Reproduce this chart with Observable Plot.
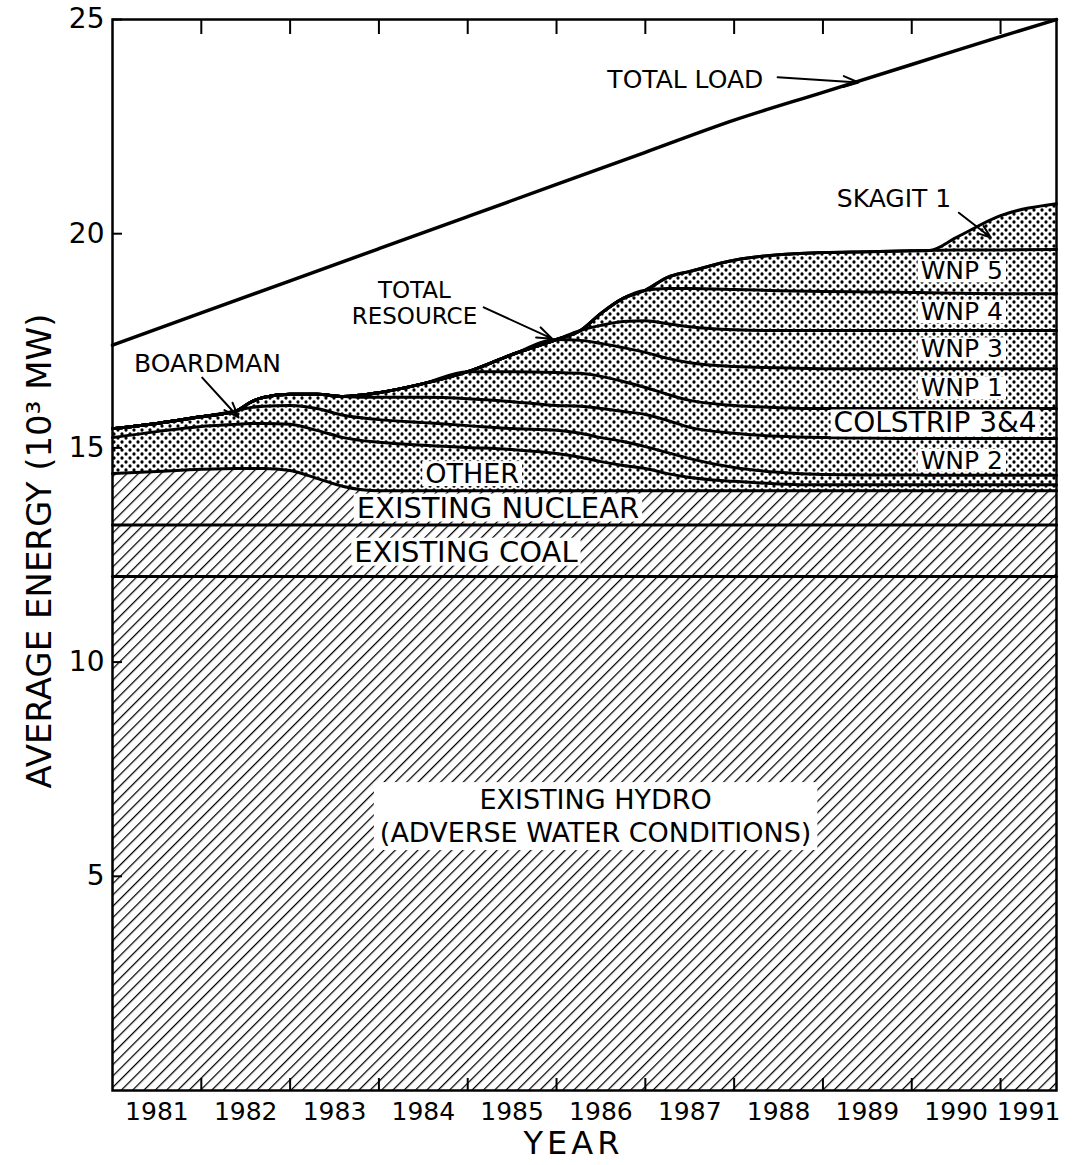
<!DOCTYPE html>
<html><head><meta charset="utf-8">
<script src="https://cdn.jsdelivr.net/npm/d3@7"></script>
<script src="https://cdn.jsdelivr.net/npm/@observablehq/plot@0.6"></script>
<style>
body{margin:0;background:#fff;}
#chart svg{display:block;}
</style></head><body><div id="chart"></div>
<script>
// ---- data (10^3 MW, cumulative tops of each resource band) ----
const years = [1981.0, 1981.5, 1982.0, 1982.4, 1982.55, 1982.7, 1983.0, 1983.3, 1983.6, 1984.0, 1984.5, 1985.0, 1985.5, 1986.0, 1986.27, 1986.5, 1986.75, 1987.0, 1987.25, 1987.5, 1988.0, 1988.5, 1989.0, 1989.5, 1990.0, 1990.2, 1990.5, 1991.0, 1991.63];
const hydroLevel = 12.0;
const coalLevel = 13.2;
const nuclearTop  = [14.40,14.45,14.50,14.52,14.52,14.52,14.47,14.29,14.10,14.00,14.00,14.00,14.00,14.00,14.00,14.00,14.00,14.00,14.00,14.00,14.00,14.00,14.00,14.00,14.00,14.00,14.00,14.00,14.00];
const otherTop    = [15.24,15.38,15.50,15.55,15.57,15.57,15.55,15.41,15.24,15.13,15.06,15.01,14.96,14.87,14.78,14.68,14.59,14.52,14.40,14.31,14.22,14.16,14.14,14.14,14.14,14.14,14.14,14.14,14.14];
const boardmanTop = [15.45,15.57,15.73,15.87,15.94,15.97,15.99,15.92,15.76,15.66,15.59,15.52,15.45,15.41,15.34,15.24,15.15,15.03,14.89,14.75,14.54,14.43,14.38,14.37,14.37,14.36,14.36,14.36,14.36];
const wnp2Top     = [15.45,15.57,15.73,15.87,16.06,16.18,16.25,16.25,16.20,16.18,16.18,16.15,16.08,15.99,15.97,15.92,15.85,15.78,15.64,15.48,15.34,15.27,15.24,15.23,15.22,15.22,15.22,15.22,15.22];
const colstripTop = [15.45,15.57,15.73,15.87,16.06,16.18,16.25,16.25,16.20,16.29,16.50,16.78,16.78,16.76,16.74,16.67,16.55,16.41,16.25,16.11,15.99,15.94,15.92,15.92,15.92,15.92,15.92,15.92,15.92];
const wnp1Top     = [15.45,15.57,15.73,15.87,16.06,16.18,16.25,16.25,16.20,16.29,16.50,16.78,17.18,17.53,17.51,17.44,17.34,17.23,17.09,16.99,16.90,16.87,16.85,16.85,16.85,16.85,16.85,16.85,16.85];
const wnp3Top     = [15.45,15.57,15.73,15.87,16.06,16.18,16.25,16.25,16.20,16.29,16.50,16.78,17.18,17.53,17.74,17.86,17.95,17.97,17.90,17.83,17.76,17.74,17.74,17.74,17.74,17.74,17.74,17.74,17.74];
const wnp4Top     = [15.45,15.57,15.73,15.87,16.06,16.18,16.25,16.25,16.20,16.29,16.50,16.78,17.18,17.53,17.74,18.14,18.49,18.68,18.72,18.72,18.70,18.67,18.65,18.64,18.63,18.62,18.61,18.60,18.60];
const wnp5Top     = [15.45,15.57,15.73,15.87,16.06,16.18,16.25,16.25,16.20,16.29,16.50,16.78,17.18,17.53,17.74,18.14,18.49,18.68,18.98,19.12,19.38,19.51,19.56,19.58,19.60,19.61,19.62,19.62,19.63];
const skagitTop   = [15.45,15.57,15.73,15.87,16.06,16.18,16.25,16.25,16.20,16.29,16.50,16.78,17.18,17.53,17.74,18.14,18.49,18.68,18.98,19.12,19.38,19.51,19.56,19.58,19.60,19.61,19.91,20.42,20.70];

const loadYears  = [1981, 1982, 1983, 1984, 1985, 1986, 1987, 1988, 1989, 1990, 1991, 1991.63];
const loadValues = [17.4, 18.15, 18.9, 19.65, 20.4, 21.15, 21.9, 22.65, 23.3, 23.95, 24.6, 25.0];

const yTicks = [5, 10, 15, 20, 25];
const xTicks = [1982, 1983, 1984, 1985, 1986, 1987, 1988, 1989, 1990, 1991];
const yearLabels = [1981, 1982, 1983, 1984, 1985, 1986, 1987, 1988, 1989, 1990, 1991];
const xDomain = [1981, 1991.63];

// ---- layers (bottom to top) ----
const layers = [
  {name: "Existing Hydro",   top: years.map(() => hydroLevel), pattern: "hatch"},
  {name: "Existing Coal",    top: years.map(() => coalLevel),  pattern: "hatch"},
  {name: "Existing Nuclear", top: nuclearTop,  pattern: "hatch"},
  {name: "Other",            top: otherTop,    pattern: "dots"},
  {name: "Boardman",         top: boardmanTop, pattern: "dots"},
  {name: "WNP 2",            top: wnp2Top,     pattern: "dots"},
  {name: "Colstrip 3&4",     top: colstripTop, pattern: "dots"},
  {name: "WNP 1",            top: wnp1Top,     pattern: "dots"},
  {name: "WNP 3",            top: wnp3Top,     pattern: "dots"},
  {name: "WNP 4",            top: wnp4Top,     pattern: "dots"},
  {name: "WNP 5",            top: wnp5Top,     pattern: "dots"},
  {name: "Skagit 1",         top: skagitTop,   pattern: "dots"}
];
const rows = [];
layers.forEach((L, i) => {
  const lower = i === 0 ? null : layers[i - 1].top;
  years.forEach((x, j) => rows.push({layer: L.name, pattern: L.pattern, x, y1: lower ? lower[j] : 0, y2: L.top[j]}));
});
const loadRows = loadYears.map((x, i) => ({x, y: loadValues[i]}));

// ---- annotations ----
const notes = [
  {text: "TOTAL LOAD", x: 1987.45, y: 23.6, size: 25},
  {text: "TOTAL\nRESOURCE", x: 1984.4, y: 18.38, size: 23},
  {text: "BOARDMAN", x: 1982.07, y: 16.99, size: 25},
  {text: "SKAGIT 1", x: 1989.8, y: 20.84, size: 25}
];
const arrows = [
  {x1: 1988.49, y1: 23.65, x2: 1989.40, y2: 23.53},
  {x1: 1985.18, y1: 18.28, x2: 1985.95, y2: 17.55},
  {x1: 1982.01, y1: 16.64, x2: 1982.42, y2: 15.71},
  {x1: 1990.53, y1: 20.49, x2: 1990.89, y2: 19.91}
];
const bandLabels = [
  {text: "WNP 5", x: 1990.10, y: 19.12, size: 25},
  {text: "WNP 4", x: 1990.10, y: 18.17, size: 25},
  {text: "WNP 3", x: 1990.10, y: 17.30, size: 25},
  {text: "WNP 1", x: 1990.10, y: 16.39, size: 25},
  {text: "COLSTRIP 3&4", x: 1989.12, y: 15.57, size: 28},
  {text: "WNP 2", x: 1990.10, y: 14.70, size: 25}
];
const centerLabels = [
  {text: "OTHER", x: 1985.05, y: 14.38, size: 27},
  {text: "EXISTING NUCLEAR", x: 1985.34, y: 13.59, size: 29},
  {text: "EXISTING COAL", x: 1984.98, y: 12.56, size: 29}
];
const hydroLabel = [{text: "EXISTING HYDRO\n(ADVERSE WATER CONDITIONS)", x: 1986.44, y: 6.43, size: 27}];

const font = "DejaVu Sans";
const svg = Plot.plot({
  width: 1074, height: 1165,
  marginLeft: 112, marginRight: 18, marginTop: 19, marginBottom: 75,
  style: {fontFamily: font, background: "white", color: "black"},
  x: {domain: xDomain, axis: null},
  y: {domain: [0, 25], axis: null},
  marks: [
    Plot.areaY(rows.filter(r => r.pattern === "hatch"), {x: "x", y1: "y1", y2: "y2", z: "layer", fill: "url(#hatch)", curve: "monotone-x"}),
    Plot.areaY(rows.filter(r => r.pattern === "dots"), {x: "x", y1: "y1", y2: "y2", z: "layer", fill: "url(#dots)", curve: "monotone-x"}),
    Plot.line(rows, {x: "x", y: "y2", z: "layer", stroke: "black", strokeWidth: 3, curve: "monotone-x"}),
    Plot.line(loadRows, {x: "x", y: "y", stroke: "black", strokeWidth: 3.5, curve: "monotone-x"}),
    Plot.arrow(arrows, {x1: "x1", y1: "y1", x2: "x2", y2: "y2", stroke: "black", strokeWidth: 2, headLength: 12, headAngle: 40}),
    Plot.text(notes, {x: "x", y: "y", text: "text", fontSize: d => d.size, lineHeight: 1.12, fill: "black"}),
    Plot.text(bandLabels, {x: "x", y: "y", text: "text", fontSize: d => d.size, textAnchor: "start", fill: "black"}),
    Plot.text(centerLabels, {x: "x", y: "y", text: "text", fontSize: d => d.size, fill: "black"}),
    Plot.text(hydroLabel, {x: "x", y: "y", text: "text", fontSize: d => d.size, lineHeight: 1.22, fill: "black"}),
    // axes: inward ticks, labels as text
    Plot.axisY(yTicks, {anchor: "left", tickSize: -10, strokeWidth: 2, fill: "none", label: null}),
    Plot.axisX(xTicks, {anchor: "top", tickSize: -14, strokeWidth: 2, fill: "none", label: null}),
    Plot.axisX(xTicks, {anchor: "bottom", tickSize: -12, strokeWidth: 2, fill: "none", label: null}),
    Plot.text(yTicks, {y: d => d, frameAnchor: "left", dx: -8, textAnchor: "end", lineAnchor: "middle", fontSize: 28, text: d => String(d)}),
    Plot.text(yearLabels, {x: d => (d + Math.min(d + 1, xDomain[1])) / 2, frameAnchor: "bottom", lineAnchor: "middle", dy: 21, fontSize: 25, text: d => String(d)}),
    Plot.text(["YEAR"], {frameAnchor: "bottom", lineAnchor: "middle", textAnchor: "middle", dy: 53, dx: -11, fontSize: 32, text: d => d}),
    Plot.text(["AVERAGE ENERGY (10³ MW)"], {frameAnchor: "left", textAnchor: "middle", lineAnchor: "middle", dx: -72, dy: -4, rotate: -90, fontSize: 34, text: d => d}),
    Plot.frame({stroke: "black", strokeWidth: 2.5})
  ]
});
document.getElementById("chart").appendChild(svg);

// pattern definitions
d3.select(svg).insert("defs", ":first-child").html(`
  <pattern id="hatch" width="8" height="8" patternUnits="userSpaceOnUse" patternTransform="rotate(45)">
    <rect width="8" height="8" fill="white"/>
    <line x1="0" y1="-1" x2="0" y2="9" stroke="black" stroke-width="2.5"/>
  </pattern>
  <pattern id="dots" width="8" height="8" patternUnits="userSpaceOnUse">
    <rect width="8" height="8" fill="white"/>
    <circle cx="2" cy="2" r="1.65" fill="black"/>
    <circle cx="6" cy="6" r="1.65" fill="black"/>
  </pattern>`);

// letter spacing for the axis title "YEAR"
d3.select(svg).selectAll("text").filter(function() { return this.textContent === "YEAR"; }).style("letter-spacing", "4px");

// white knock-out boxes behind labels that sit on patterns
const knock = new Map([
  ["WNP 5", [3, -3]], ["WNP 4", [3, -3]], ["WNP 3", [3, -3]], ["WNP 1", [3, -3]], ["COLSTRIP 3&4", [3, -3]], ["WNP 2", [3, -3]],
  ["OTHER", [3, -3]], ["EXISTING NUCLEAR", [3, -3]], ["EXISTING COAL", [3, -3]]
]);
d3.select(svg).selectAll("text").each(function() {
  const t = this.textContent;
  let pad = knock.get(t);
  if (!pad && t.startsWith("EXISTING HYDRO")) pad = [6, 2];
  if (!pad) return;
  const b = this.getBBox();
  d3.select(this.parentNode).insert("rect", () => this)
    .attr("x", b.x - pad[0]).attr("y", b.y - pad[1])
    .attr("width", b.width + 2 * pad[0]).attr("height", b.height + 2 * pad[1])
    .attr("transform", this.getAttribute("transform"))
    .attr("fill", "white");
});
</script></body></html>
